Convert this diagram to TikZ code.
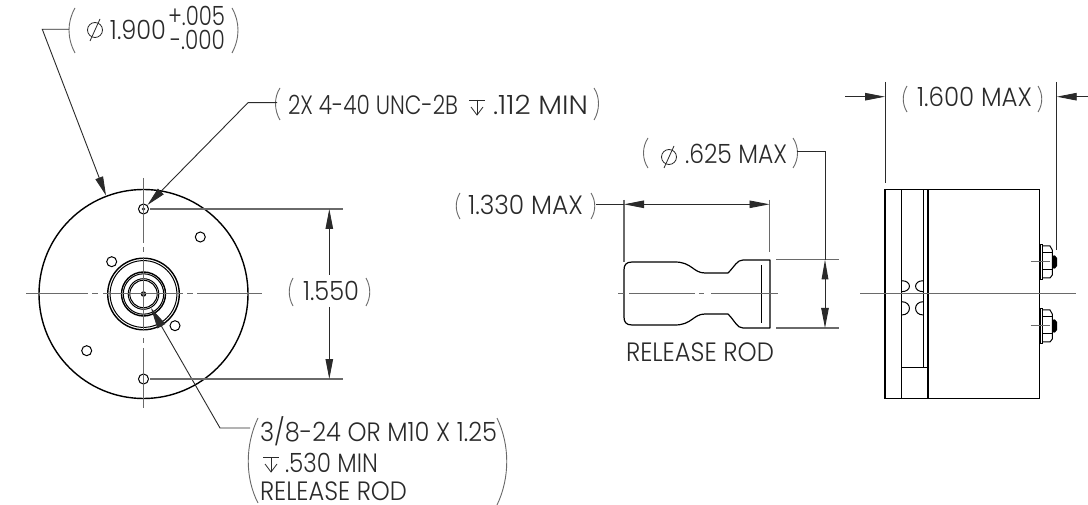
\documentclass[tikz,border=0pt]{standalone}
\usepackage{fontspec}
\usepackage{graphicx}
\setmainfont{Poppins}[UprightFont=* Light]
\usetikzlibrary{arrows.meta}
\definecolor{ink}{HTML}{2A2A2A}
\definecolor{cl}{HTML}{6A6A6A}
\newcommand\fitw[2]{\resizebox{#1pt}{\height}{#2}}
\tikzset{
  lbl/.style={inner sep=0pt,outer sep=0pt,anchor=base west,text=ink,font=\fontsize{26.5}{26.5}\selectfont},
  ext/.style={draw=cl,line width=1.1pt},
  centre/.style={draw=cl,line width=1pt},
  body/.style={draw=black,line width=1.4pt},
  fine/.style={draw=black,line width=1pt},
  brace/.style={draw=cl,line width=0.9pt},
  symb/.style={draw=ink,line width=0.8pt},
  dimhead/.style={-{Triangle[length=20pt,width=7.5pt]},draw=ink,line width=0.9pt},
  dimboth/.style={{Triangle[length=20pt,width=7.5pt]}-{Triangle[length=20pt,width=7.5pt]},draw=ink,line width=0.9pt},
  leader/.style={-{Triangle[length=19pt,width=8pt]},draw=ink,line width=0.9pt},
  diasym/.pic={\draw[symb] (0,0) circle (7.5); \draw[symb] (-5,11) -- (5,-11);},
  deepsym/.pic={\draw[symb] (-8,-15) -- (8,-15); \draw[symb] (0,-15) -- (0,0); \draw[symb] (-6,-8) -- (0,0) -- (6,-8);},
}
\begin{document}
\begin{tikzpicture}[x=1pt,y=-1pt]
\useasboundingbox[fill=white] (0,0) rectangle (1088,505);
% ---------- labels
\pic at (95,30) {diasym};
\node[lbl] (diaval) at (110,39.3) {\fitw{56}{1.900}};
\node[lbl] (tolup) at (168,26) {\fitw{57}{+.005}};
\node[lbl] (tollo) at (170,49.5) {\fitw{55}{-.000}};
\node[lbl] (holes) at (288,115) {\fitw{170}{2X 4-40 UNC-2B}};
\pic at (477,115) {deepsym};
\node[lbl] (holesmin) at (493,115) {\fitw{95}{.112 MIN}};
\node[lbl] (span) at (303,300.7) {\fitw{56}{1.550}};
\node[lbl] (rodA) at (260,441) {\fitw{237}{3/8-24 OR M10 X 1.25}};
\pic at (271,472) {deepsym};
\node[lbl] (rodB) at (285,472) {\fitw{93}{.530 MIN}};
\node[lbl] (rodC) at (260,500) {\fitw{147}{RELEASE ROD}};
\node[lbl] (rodname) at (626,361) {\fitw{148}{RELEASE ROD}};
\node[lbl] (lenv) at (468,214.3) {\fitw{115}{1.330 MAX}};
\pic at (669,157) {diasym};
\node[lbl] (diav) at (685,164) {\fitw{102}{.625 MAX}};
\node[lbl] (wid) at (917,106.7) {\fitw{115}{1.600 MAX}};
% ---------- parentheses
\draw[brace] (75,8) .. controls (67,22) and (67,38) .. (75,53);
\draw[brace] (232,8) .. controls (240,22) and (240,38) .. (232,53);
\draw[brace] (280,88) .. controls (274,97) and (274,110) .. (280,120);
\draw[brace] (594,88) .. controls (600,97) and (600,110) .. (594,120);
\draw[brace] (293,278) .. controls (288,287) and (288,297) .. (293,306);
\draw[brace] (366,278) .. controls (371,287) and (371,297) .. (366,306);
\draw[brace] (258,418) .. controls (245,445) and (245,478) .. (258,503);
\draw[brace] (497,418) .. controls (510,445) and (510,478) .. (497,505);
\draw[brace] (648,138) .. controls (642,147) and (642,159) .. (648,168);
\draw[brace] (793,138) .. controls (799,147) and (799,159) .. (793,168);
\draw[brace] (460,193) .. controls (455,201) and (455,211) .. (460,219);
\draw[brace] (591,193) .. controls (596,201) and (596,211) .. (591,219);
\draw[brace] (907,86) .. controls (902,94) and (902,104) .. (907,112);
\draw[brace] (1038,86) .. controls (1043,94) and (1043,104) .. (1038,112);
% ---------- front view
\coordinate (fc) at (143.5,294);
\draw[body] (fc) circle (104.5);
\draw[body] (fc) circle (35.8);
\draw[fine] (fc) circle (33.4);
\draw[body] (fc) circle (22);
\draw[fine] (fc) circle (20.2);
\draw[fine] (fc) circle (15.3);
\draw[fine] (fc) circle (13.7);
\draw[fine,fill=cl] (fc) circle (2.2);
\foreach \p in {(143.5,209),(143.5,379),(200.3,237),(111.7,261.7),(175,325.7),(86.7,350.7)}
  \draw[fine,fill=white] \p circle (5);
\fill[ink] (143.5,209) circle (1.8);
% centre lines
\foreach \a/\b in {26/88,92/98,103/183,187/193,197/262}
  \draw[centre] (\a,294) -- (\b,294);
\foreach \a/\b in {178/243,247/252,257/330,338/343,348/408}
  \draw[centre] (143.5,\a) -- (143.5,\b);
% leaders
\coordinate (l1) at (42.3,29.3);
\coordinate (l1p) at (69,29.3);
\coordinate (l1t) at (106,195.5);
\draw[leader] (l1p) -- (l1) -- (l1t);
\coordinate (l2) at (248,102.7);
\coordinate (l2p) at (277,102.7);
\coordinate (l2t) at (147.5,205);
\draw[leader] (l2p) -- (l2) -- (l2t);
\coordinate (l3) at (220,428);
\coordinate (l3p) at (250,428);
\coordinate (l3t) at (151,308);
\draw[ink,line width=0.9pt,-{Triangle[length=21pt,width=9pt]}] (l3p) -- (l3) -- (l3t);
% 1.550 dimension
\coordinate (e1a) at (150,209); \coordinate (e1b) at (343,209);
\coordinate (e2a) at (150,379); \coordinate (e2b) at (343,379);
\draw[ext] (e1a) -- (e1b);
\draw[ext] (e2a) -- (e2b);
\draw[dimhead] (329.3,275) -- (329.3,209);
\draw[dimhead] (329.3,307) -- (329.3,379);
% ---------- release rod
\draw[black,line width=1.2pt,line join=round] (770,260) -- (743,260)
  .. controls (737,260) and (735,266) .. (728,273) -- (705,273)
  .. controls (693,273) and (692,262) .. (675,262) -- (632,262)
  .. controls (626,262) and (624,265) .. (624,270) -- (624,317)
  .. controls (624,322) and (626,325) .. (632,325) -- (675,325)
  .. controls (692,325) and (693,314) .. (705,314) -- (728,314)
  .. controls (735,321) and (737,328) .. (743,328) -- (770,328) -- cycle;
\draw[fine] (761.5,265) -- (761.5,323);
\foreach \a/\b in {618/624,629/695,699/704,711/778}
  \draw[centre] (\a,294) -- (\b,294);
\draw[ext] (624,200) -- (624,262);
\draw[ext] (769.5,200) -- (769.5,252);
\draw[ext] (776,259.7) -- (838.7,259.7);
\draw[ext] (776,328) -- (838.7,328);
\draw[ink,line width=0.9pt] (596,204.3) -- (624,204.3);
\draw[dimboth] (624,204.3) -- (769.5,204.3);
\draw[ink,line width=0.9pt] (797,151.7) -- (825,151.7) -- (825,260);
\draw[dimhead] (825,270) -- (825,328);
\fill[ink] (825,259.7) -- (821.5,279.5) -- (828.5,279.5) -- cycle;
% ---------- side view
\draw[body] (885,189.3) rectangle (1039.3,398.3);
\draw[body] (901.7,189.3) -- (901.7,398.3);
\draw[fine] (923.3,189.3) -- (923.3,367.3);
\draw[body] (928,189.3) -- (928,398.3);
\draw[fine] (901.7,367.3) -- (928,367.3);
\foreach \ya/\yb in {280.7/291.7,301.7/315}{
  \draw[fine] (901.7,\ya) .. controls (912,\ya) and (912,\yb) .. (901.7,\yb);
  \draw[fine] (923.3,\ya) .. controls (913,\ya) and (913,\yb) .. (923.3,\yb);
}
\draw[centre] (860,294) -- (1076,294);
\foreach \dy in {0,64}{
\begin{scope}[yshift=-\dy pt]
  \draw[fine] (1040,245) rectangle (1042,279.3);
  \draw[fine] (1042,246) -- (1050,246) -- (1052.3,250) -- (1052.3,275) -- (1050,278) -- (1042,278);
  \draw[fine] (1042,253) -- (1052.3,253);
  \draw[fine] (1042,270) -- (1052.3,270);
  \fill[black,rounded corners=2pt] (1052.3,255) -- (1057,256) -- (1057,268) -- (1052.3,269) -- cycle;
  \draw[centre] (1030.7,261.7) -- (1050,261.7);
\end{scope}}
% 1.600 dimension
\coordinate (x1) at (885,82); \coordinate (x1b) at (885,183);
\coordinate (x2) at (1056.7,82); \coordinate (x2b) at (1056.7,250);
\draw[ink,line width=0.9pt] (x1) -- (x1b);
\draw[ink,line width=0.9pt] (x2) -- (x2b);
\coordinate (a1) at (845,96.7); \coordinate (a1t) at (885,96.7);
\coordinate (a2) at (1088,96.7); \coordinate (a2t) at (1056.7,96.7);
\draw[dimhead] (a1) -- (a1t);
\draw[dimhead] (a2) -- (a2t);
\end{tikzpicture}
\end{document}
